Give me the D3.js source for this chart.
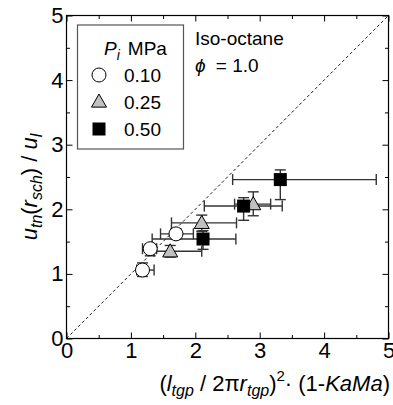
<!DOCTYPE html>
<html>
<head>
<meta charset="utf-8">
<script src="https://cdn.jsdelivr.net/npm/d3@7"></script>
<style>
  body { margin: 0; background: #fff; }
  svg { display: block; font-family: "Liberation Sans", Arial, sans-serif; }
</style>
</head>
<body>
<div id="chart"></div>
<script>
// Data (x, y with asymmetric error extents)
const pressures = ["0.10", "0.25", "0.50"];
const symbols = ["circle", "triangle", "square"];

const xP010 = [1.18, 1.30, 1.70];
const yP010 = [1.06, 1.39, 1.62];
const xLoP010 = [1.09, 1.18, 1.46];
const xHiP010 = [1.36, 1.40, 1.97];
const yLoP010 = [0.96, 1.28, 1.54];
const yHiP010 = [1.17, 1.46, 1.70];

const xP025 = [1.61, 2.10, 2.90];
const yP025 = [1.35, 1.79, 2.08];
const xLoP025 = [1.36, 1.63, 2.61];
const xHiP025 = [2.10, 2.64, 3.17];
const yLoP025 = [1.26, 1.66, 1.90];
const yHiP025 = [1.44, 1.91, 2.27];

const xP050 = [2.12, 2.75, 3.32];
const yP050 = [1.54, 2.05, 2.46];
const xLoP050 = [1.33, 2.14, 2.58];
const xHiP050 = [2.63, 3.35, 4.81];
const yLoP050 = [1.38, 1.83, 2.15];
const yHiP050 = [1.67, 2.18, 2.61];

const xTicks = [0, 1, 2, 3, 4, 5];
const yTicks = [0, 1, 2, 3, 4, 5];
const minorTicks = [0.5, 1.5, 2.5, 3.5, 4.5];

const build = (xs, ys, xl, xh, yl, yh) =>
  xs.map((x, i) => ({ x, y: ys[i], xl: xl[i], xh: xh[i], yl: yl[i], yh: yh[i] }));

const series = [
  { p: pressures[0], sym: symbols[0], pts: build(xP010, yP010, xLoP010, xHiP010, yLoP010, yHiP010) },
  { p: pressures[1], sym: symbols[1], pts: build(xP025, yP025, xLoP025, xHiP025, yLoP025, yHiP025) },
  { p: pressures[2], sym: symbols[2], pts: build(xP050, yP050, xLoP050, xHiP050, yLoP050, yHiP050) }
];

const W = 393, H = 405;
const margin = { top: 15.5, right: 4.5, bottom: 66.5, left: 66.5 };
const width = W - margin.left - margin.right;
const height = H - margin.top - margin.bottom;

const svg = d3.select("#chart").append("svg")
  .attr("width", W).attr("height", H);

const g = svg.append("g")
  .attr("transform", `translate(${margin.left},${margin.top})`);

const x = d3.scaleLinear().domain([0, 5]).range([0, width]);
const y = d3.scaleLinear().domain([0, 5]).range([height, 0]);

// Ticks pointing inward on all four sides
const tickLen = 6, minorLen = 3.5;
const axisStyle = sel => {
  sel.select(".domain").remove();
  sel.selectAll("line").attr("stroke", "#000");
  sel.selectAll("text").attr("font-size", 22).attr("fill", "#000");
};

g.append("g").attr("transform", `translate(0,${height})`)
  .call(d3.axisBottom(x).tickValues(xTicks).tickSize(-tickLen).tickPadding(4).tickFormat(d3.format("d")))
  .call(axisStyle);
g.append("g").attr("transform", `translate(0,${height})`)
  .call(d3.axisBottom(x).tickValues(minorTicks).tickSize(-minorLen).tickFormat(""))
  .call(axisStyle);
g.append("g")
  .call(d3.axisTop(x).tickValues(xTicks).tickSize(-tickLen).tickFormat(""))
  .call(axisStyle);
g.append("g")
  .call(d3.axisTop(x).tickValues(minorTicks).tickSize(-minorLen).tickFormat(""))
  .call(axisStyle);

g.append("g")
  .call(d3.axisLeft(y).tickValues(yTicks).tickSize(-tickLen).tickPadding(3).tickFormat(d3.format("d")))
  .call(axisStyle);
g.append("g")
  .call(d3.axisLeft(y).tickValues(minorTicks).tickSize(-minorLen).tickFormat(""))
  .call(axisStyle);
g.append("g").attr("transform", `translate(${width},0)`)
  .call(d3.axisRight(y).tickValues(yTicks).tickSize(-tickLen).tickFormat(""))
  .call(axisStyle);
g.append("g").attr("transform", `translate(${width},0)`)
  .call(d3.axisRight(y).tickValues(minorTicks).tickSize(-minorLen).tickFormat(""))
  .call(axisStyle);

// frame
g.append("rect")
  .attr("width", width).attr("height", height)
  .attr("fill", "none").attr("stroke", "#000").attr("stroke-width", 1.2);

// 1:1 dashed line
g.append("line")
  .attr("x1", x(0)).attr("y1", y(0))
  .attr("x2", x(5)).attr("y2", y(5))
  .attr("stroke", "#000").attr("stroke-width", 0.9)
  .attr("stroke-dasharray", "3,2.5");

// symbol drawing
const fills = { circle: "#fff", triangle: "#c0c0c0", square: "#000" };
function drawSymbol(sel, sym, cx, cy) {
  if (sym === "circle") {
    sel.append("circle").attr("cx", cx).attr("cy", cy).attr("r", 7)
      .attr("fill", fills.circle).attr("stroke", "#000").attr("stroke-width", 1);
  } else if (sym === "triangle") {
    const s = 7.5;
    sel.append("path")
      .attr("d", `M${cx},${cy - s}L${cx + s},${cy + s * 0.75}L${cx - s},${cy + s * 0.75}Z`)
      .attr("fill", fills.triangle).attr("stroke", "#000").attr("stroke-width", 1);
  } else {
    const s = 6.5;
    sel.append("rect").attr("x", cx - s).attr("y", cy - s).attr("width", 2 * s).attr("height", 2 * s)
      .attr("fill", fills.square);
  }
}

const cap = 5.5;
const eb = g.append("g");
series.forEach(s => {
  const grp = eb.append("g").attr("stroke", "#333").attr("stroke-width", 1.4).attr("fill", "none");
  s.pts.forEach(d => {
    // horizontal
    grp.append("line").attr("x1", x(d.xl)).attr("x2", x(d.xh)).attr("y1", y(d.y)).attr("y2", y(d.y));
    grp.append("line").attr("x1", x(d.xl)).attr("x2", x(d.xl)).attr("y1", y(d.y) - cap).attr("y2", y(d.y) + cap);
    grp.append("line").attr("x1", x(d.xh)).attr("x2", x(d.xh)).attr("y1", y(d.y) - cap).attr("y2", y(d.y) + cap);
    // vertical
    grp.append("line").attr("x1", x(d.x)).attr("x2", x(d.x)).attr("y1", y(d.yl)).attr("y2", y(d.yh));
    grp.append("line").attr("x1", x(d.x) - cap).attr("x2", x(d.x) + cap).attr("y1", y(d.yl)).attr("y2", y(d.yl));
    grp.append("line").attr("x1", x(d.x) - cap).attr("x2", x(d.x) + cap).attr("y1", y(d.yh)).attr("y2", y(d.yh));
  });
  const mk = g.append("g");
  s.pts.forEach(d => drawSymbol(mk, s.sym, x(d.x), y(d.y)));
});

// legend box
const leg = svg.append("g");
leg.append("rect")
  .attr("x", 77.5).attr("y", 25).attr("width", 106).attr("height", 124)
  .attr("fill", "#fff").attr("stroke", "#555").attr("stroke-width", 1.2);
const hdr = leg.append("text").attr("x", 104).attr("y", 55).attr("font-size", 19);
hdr.append("tspan").attr("font-style", "italic").text("P");
hdr.append("tspan").attr("font-style", "italic").attr("font-size", 14).attr("dy", 5).text("i");
hdr.append("tspan").attr("dy", -5).attr("dx", 8).text("MPa");
const rowY = [75, 101.5, 129];
series.forEach((s, i) => {
  drawSymbol(leg, s.sym, 99, rowY[i]);
  leg.append("text").attr("x", 124).attr("y", rowY[i] + 7).attr("font-size", 19).text(s.p);
});

// annotation
svg.append("text").attr("x", 195).attr("y", 44.5).attr("font-size", 19).text("Iso-octane");
const phi = svg.append("text").attr("x", 195).attr("y", 72).attr("font-size", 19);
phi.append("tspan").attr("font-style", "italic").text("\u03d5");
phi.append("tspan").attr("dx", 5).text(" = 1.0");

// y axis title
const yt = svg.append("text")
  .attr("transform", `translate(37,${margin.top + height / 2 + 10}) rotate(-90)`)
  .attr("text-anchor", "middle").attr("font-size", 22);
yt.append("tspan").attr("font-style", "italic").text("u");
yt.append("tspan").attr("font-style", "italic").attr("font-size", 16).attr("dy", 5).text("tn");
yt.append("tspan").attr("dy", -5).text("(");
yt.append("tspan").attr("font-style", "italic").text("r");
yt.append("tspan").attr("font-style", "italic").attr("font-size", 16).attr("dy", 5).text("sch");
yt.append("tspan").attr("dy", -5).text(") / ");
yt.append("tspan").attr("font-style", "italic").text("u");
yt.append("tspan").attr("font-style", "italic").attr("font-size", 16).attr("dy", 5).text("l");

// x axis title
const xt = svg.append("text")
  .attr("x", 390).attr("y", 391)
  .attr("text-anchor", "end").attr("font-size", 22);
xt.append("tspan").text("(");
xt.append("tspan").attr("font-style", "italic").text("l");
xt.append("tspan").attr("font-style", "italic").attr("font-size", 16).attr("dy", 5).text("tgp");
xt.append("tspan").attr("dy", -5).text(" / 2\u03c0");
xt.append("tspan").attr("font-style", "italic").text("r");
xt.append("tspan").attr("font-style", "italic").attr("font-size", 16).attr("dy", 5).text("tgp");
xt.append("tspan").attr("dy", -5).text(")");
xt.append("tspan").attr("font-size", 15).attr("dy", -10).text("2");
xt.append("tspan").attr("dy", 10).text("\u00b7 (1-");
xt.append("tspan").attr("font-style", "italic").text("KaMa");
xt.append("tspan").text(")");
</script>
</body>
</html>
